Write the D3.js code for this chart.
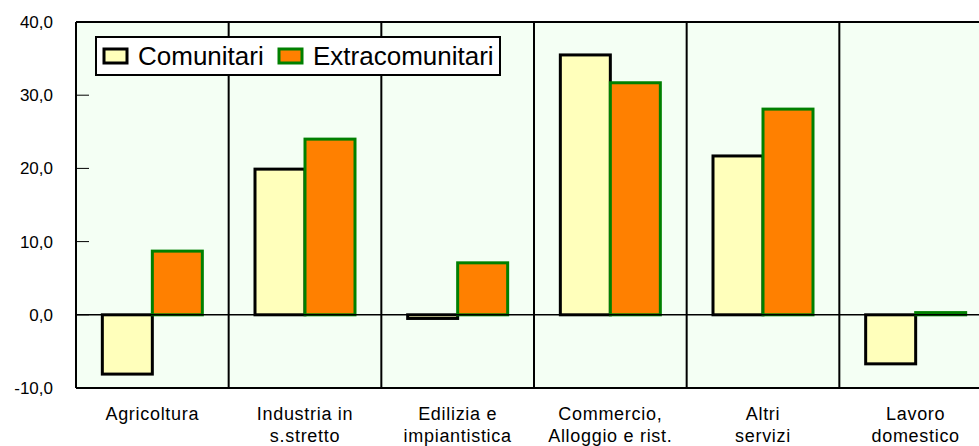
<html>
<meta charset="utf-8">
<script src="https://d3js.org/d3.v7.min.js"></script>
<style>
body { margin: 0; background: #fff; }
text { font-family: "Liberation Sans", Arial, sans-serif; }
</style>
<body>
<div id="chart"></div>
<script>
var categories = [["Agricoltura"], ["Industria in", "s.stretto"], ["Edilizia e", "impiantistica"],
                  ["Commercio,", "Alloggio e rist."], ["Altri", "servizi"], ["Lavoro", "domestico"]];
var seriesNames = ["Comunitari", "Extracomunitari"];
var comunitari = [-8.1, 19.9, -0.5, 35.5, 21.7, -6.7];
var extracomunitari = [8.7, 24.0, 7.1, 31.7, 28.1, 0.3];
var yTicks = [-10, 0, 10, 20, 30, 40];

var WIDTH = 979, HEIGHT = 446;
var plotLeft = 76, plotTop = 22, plotW = 916, plotBottom = 388;

var svg = d3.select("#chart").append("svg").attr("width", WIDTH).attr("height", HEIGHT);

var x = d3.scaleBand().domain(d3.range(categories.length)).range([plotLeft, plotLeft + plotW]);
var y = d3.scaleLinear().domain([-10, 40]).range([plotBottom, plotTop]);

var fills = ["#FFFFBB", "#FF8000"];
var strokes = ["#000000", "#008000"];
var values = [comunitari, extracomunitari];

// plot background
svg.append("rect").attr("x", plotLeft).attr("y", plotTop).attr("width", plotW).attr("height", plotBottom - plotTop)
   .attr("fill", "#F4FFF4");

// category separators
svg.selectAll(".sep").data(d3.range(1, categories.length)).enter().append("line")
   .attr("x1", function (d) { return x(d); }).attr("x2", function (d) { return x(d); })
   .attr("y1", plotTop).attr("y2", plotBottom).attr("stroke", "#000").attr("stroke-width", 2);

// bars
var barW = 50;
values.forEach(function (vals, s) {
  svg.selectAll(".bar" + s).data(vals).enter().append("rect")
     .attr("x", function (d, i) { return x(i) + x.bandwidth() / 2 - barW + s * barW; })
     .attr("y", function (d) { return y(Math.max(0, d)); })
     .attr("width", barW)
     .attr("height", function (d) { return Math.abs(y(d) - y(0)); })
     .attr("fill", fills[s]).attr("stroke", strokes[s]).attr("stroke-width", 3);
});

// zero line
svg.append("line").attr("x1", plotLeft).attr("x2", plotLeft + plotW).attr("y1", y(0)).attr("y2", y(0))
   .attr("stroke", "#000").attr("stroke-width", 1.5);

// frame
svg.append("line").attr("x1", plotLeft).attr("x2", plotLeft + plotW).attr("y1", plotTop).attr("y2", plotTop)
   .attr("stroke", "#000").attr("stroke-width", 2);
svg.append("line").attr("x1", plotLeft).attr("x2", plotLeft + plotW).attr("y1", plotBottom).attr("y2", plotBottom)
   .attr("stroke", "#000").attr("stroke-width", 2);
svg.append("line").attr("x1", plotLeft).attr("x2", plotLeft).attr("y1", plotTop).attr("y2", plotBottom)
   .attr("stroke", "#000").attr("stroke-width", 2);

// y axis ticks and labels
var fmt = function (d) { return d.toFixed(1).replace(".", ","); };
svg.selectAll(".ytick").data(yTicks).enter().append("line")
   .attr("x1", plotLeft).attr("x2", plotLeft + 13)
   .attr("y1", function (d) { return y(d); }).attr("y2", function (d) { return y(d); })
   .attr("stroke", "#000").attr("stroke-width", 1);
svg.selectAll(".ylab").data(yTicks).enter().append("text")
   .attr("x", 53).attr("y", function (d) { return y(d) + 6; })
   .attr("text-anchor", "end").attr("font-size", 17).attr("fill", "#000")
   .text(fmt);

// category labels
categories.forEach(function (lines, i) {
  var t = svg.append("text").attr("text-anchor", "middle").attr("font-size", 18)
    .attr("letter-spacing", 0.7).attr("fill", "#000");
  lines.forEach(function (ln, k) {
    t.append("tspan").attr("x", x(i) + x.bandwidth() / 2).attr("y", 420 + k * 22).text(ln);
  });
});

// legend
var lg = svg.append("g");
lg.append("rect").attr("x", 96).attr("y", 37).attr("width", 404).attr("height", 38)
  .attr("fill", "#fff").attr("stroke", "#000").attr("stroke-width", 2);
var legendX = [104, 279];
seriesNames.forEach(function (n, s) {
  lg.append("rect").attr("x", legendX[s]).attr("y", 49).attr("width", 23).attr("height", 14)
    .attr("fill", fills[s]).attr("stroke", strokes[s]).attr("stroke-width", 3);
  lg.append("text").attr("x", legendX[s] + 34).attr("y", 65).attr("font-size", 26).attr("fill", "#000").text(n);
});
</script>
</body>
</html>
